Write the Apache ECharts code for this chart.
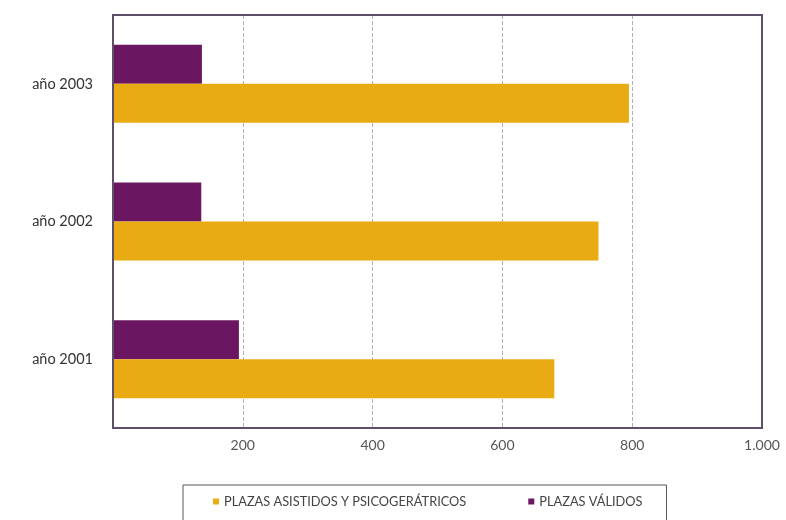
<!DOCTYPE html>
<html>
<head>
<meta charset="utf-8">
<script src="https://cdn.jsdelivr.net/npm/echarts@6/dist/echarts.min.js"></script>
<style>
html,body{margin:0;padding:0;background:#fff;}
#chart{width:786px;height:520px;}
</style>
</head>
<body>
<div id="chart"></div>
<script>
var categories = ['año 2001', 'año 2002', 'año 2003'];
var asistidosValues = [680, 748, 795];
var validosValues = [194, 136, 137];
var seriesNames = ['PLAZAS ASISTIDOS Y PSICOGERÁTRICOS', 'PLAZAS VÁLIDOS'];
var xTicks = [200, 400, 600, 800, 1000];

var chart = echarts.init(document.getElementById('chart'));
function fmt(v){
  if (xTicks.indexOf(v) < 0) return '';
  return String(v).replace(/\B(?=(\d{3})+(?!\d))/g, '.');
}
chart.setOption({
  animation: false,
  textStyle: {fontFamily: 'Lato'},
  grid: {left: 113, right: 24, top: 15, bottom: 92, show: true, borderColor: '#5e4f6b', borderWidth: 2, backgroundColor: 'transparent', z: 10},
  legend: {
    data: seriesNames,
    left: 183, top: 485,
    padding: [10, 24, 20, 30],
    borderColor: '#555', borderWidth: 1,
    icon: 'rect', itemWidth: 6, itemHeight: 6, itemGap: 62,
    textStyle: {fontSize: 12.8, color: '#444', fontFamily: 'Lato'}
  },
  xAxis: {
    type: 'value', min: 0, max: 1000, interval: 200,
    axisLine: {show: false}, axisTick: {show: false},
    axisLabel: {formatter: fmt, fontSize: 14, color: '#555', margin: 10, fontFamily: 'Lato'},
    splitLine: {show: true, showMinLine: false, showMaxLine: false, lineStyle: {type: 'dashed', color: '#b0b0b0', width: 1}}
  },
  yAxis: {
    type: 'category', data: categories,
    axisLine: {show: false}, axisTick: {show: false},
    axisLabel: {fontSize: 14.5, color: '#333', margin: 20, fontFamily: 'Lato'}
  },
  series: [
    {name: seriesNames[1], type: 'bar', data: validosValues, barWidth: 39, barGap: '0%', itemStyle: {color: '#6b1660'}},
    {name: seriesNames[0], type: 'bar', data: asistidosValues, barWidth: 39, barGap: '0%', itemStyle: {color: '#e8ab14'}}
  ]
});
</script>
</body>
</html>
